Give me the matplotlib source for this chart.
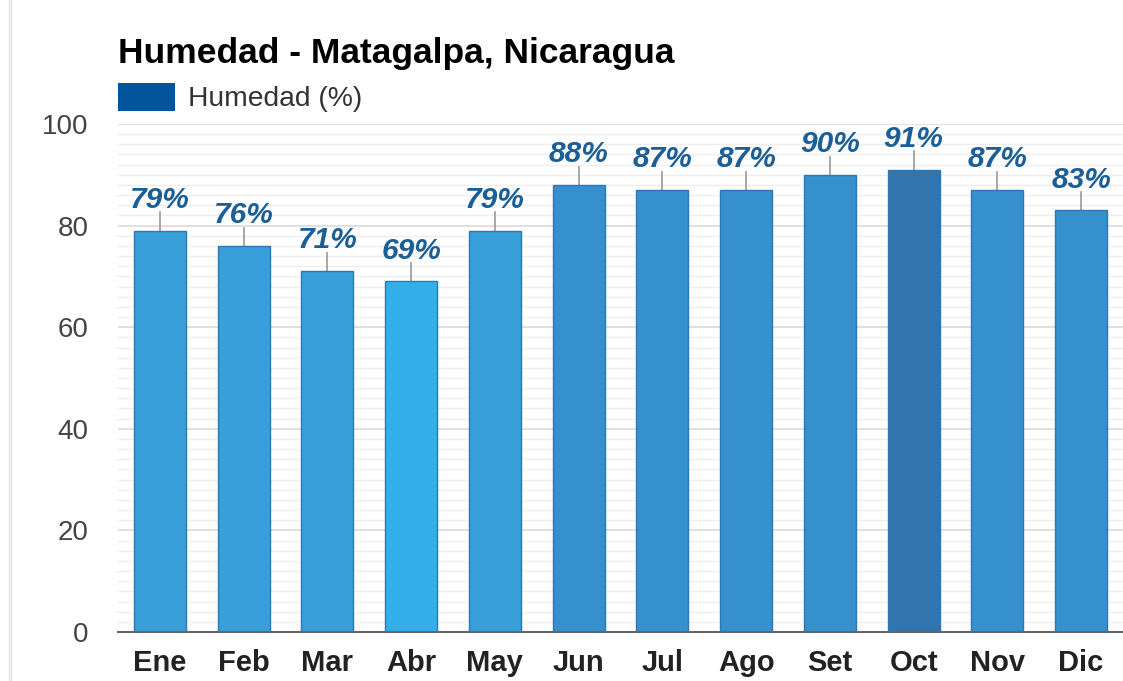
from matplotlib import pyplot as plt
from matplotlib.patches import Rectangle
from matplotlib.lines import Line2D
import numpy as np

# data
months = ["Ene", "Feb", "Mar", "Abr", "May", "Jun", "Jul", "Ago", "Set", "Oct", "Nov", "Dic"]
humidity = [79, 76, 71, 69, 79, 88, 87, 87, 90, 91, 87, 83]
title = "Humedad - Matagalpa, Nicaragua"
legend_label = "Humedad (%)"
y_ticks = [0, 20, 40, 60, 80, 100]

# bar colours (lighter for drier months, darker for wetter)
bar_colors = ["#389fda", "#389fda", "#389fda", "#35afe9", "#389fda", "#3590cd",
              "#3590cd", "#3590cd", "#3590cd", "#3274ad", "#3590cd", "#3590cd"]
label_color = "#1b5f96"

plt.rcParams['font.family'] = ['Liberation Sans', 'DejaVu Sans']

W, H = 1123, 681
fig = plt.figure(figsize=(W / 100, H / 100), dpi=100)
fig.patch.set_facecolor("white")

# axes placed in pixel terms
left, right, top, bottom = 118, 1123, 124, 632
ax = fig.add_axes([left / W, 1 - bottom / H, (right - left) / W, (bottom - top) / H])

x = np.arange(len(months))
ax.bar(x, humidity, width=0.62, color=bar_colors, edgecolor="#2a78b5", linewidth=1, zorder=3)

# little gray connector line plus the value above each bar
for i, v in zip(x, humidity):
    ax.plot([i, i], [v, v + 3.6], color="#999999", linewidth=1.2, zorder=2)
    ax.text(i, v + 4.5, "%d%%" % v, ha="center", va="baseline", color=label_color,
            fontsize=21.5, fontweight="bold", fontstyle="italic", zorder=4)

ax.set_xlim(-0.5, len(months) - 0.5)
ax.set_ylim(0, 100)
ax.set_xticks(x)
ax.set_xticklabels(months, fontsize=21, fontweight="bold", color="#222222")
ax.set_yticks(y_ticks)
ax.set_yticklabels([str(t) for t in y_ticks], fontsize=20, color="#444444")
ax.set_yticks(np.arange(0, 101, 2), minor=True)
ax.tick_params(axis="y", length=0, pad=21, which="both")
ax.tick_params(axis="x", length=0, pad=12)

# grid lines
ax.grid(axis="y", which="major", color="#dddddd", linewidth=1.3, zorder=0)
ax.grid(axis="y", which="minor", color="#efefef", linewidth=1.0, zorder=0)
ax.set_axisbelow(True)

for side in ["top", "right", "left"]:
    ax.spines[side].set_visible(False)
ax.spines["bottom"].set_color("#666666")
ax.spines["bottom"].set_linewidth(1.5)
ax.spines["bottom"].set_zorder(5)

# title and legend drawn in figure coords
fig.text(118 / W, 1 - 63 / H, title, fontsize=25.5, fontweight="bold", color="black",
         ha="left", va="baseline")
fig.add_artist(Rectangle((118 / W, 1 - 111 / H), 57 / W, 28 / H, transform=fig.transFigure,
                         facecolor="#00559c", edgecolor="none"))
fig.text(188 / W, 1 - 106 / H, legend_label, fontsize=20.3, color="#333333",
         ha="left", va="baseline")

# light page border on the left
fig.add_artist(Line2D([10 / W, 10 / W], [0, 1], transform=fig.transFigure,
                      color="#e8e8e8", linewidth=2.5))

fig.savefig("out.png", dpi=100)
